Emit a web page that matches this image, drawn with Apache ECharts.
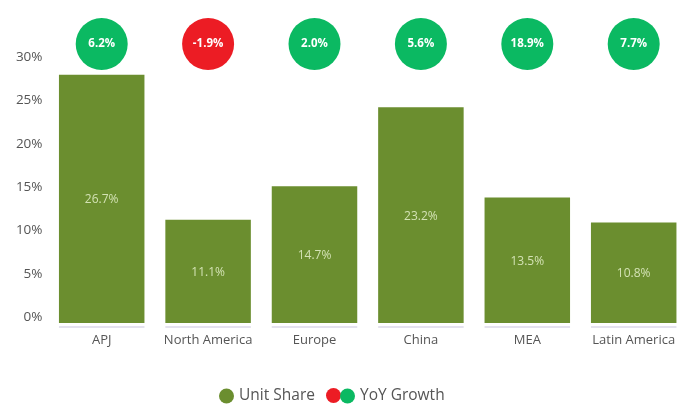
<!DOCTYPE html>
<html><head><meta charset="utf-8">
<style>html,body{margin:0;padding:0;background:#fff}#c{width:681px;height:408px}</style>
<script src="https://cdn.jsdelivr.net/npm/echarts@6/dist/echarts.min.js"></script>
</head><body><div id="c"></div>
<script>
const categories = ['APJ','North America','Europe','China','MEA','Latin America'];
const unitShare = [26.7,11.1,14.7,23.2,13.5,10.8];
const yoyGrowth = [6.2,-1.9,2.0,5.6,18.9,7.7];
const yTicks = [0,5,10,15,20,25,30];
const baseline = categories.map(() => 1);
const FONT = '"Open Sans", sans-serif';
const BAR_W = 85.5;
const L = 48.5, W = 638.4;
const greenPts = [], redPts = [];
yoyGrowth.forEach((v,i) => (v < 0 ? redPts : greenPts).push([i, 0, v]));
const bubbleLabel = {show:true, position:'inside', color:'#fff', fontFamily:FONT, fontSize:11.5, fontWeight:'bold',
  formatter:p => p.value[2].toFixed(1)+'%'};
const chart = echarts.init(document.getElementById('c'), null, {renderer:'canvas'});
const gridBase = {left:L, width:W, outerBoundsMode:'none'};
chart.setOption({
  animation:false,
  backgroundColor:'#fff',
  grid:[
    {...gridBase, top:44, height:279},
    {...gridBase, top:326, height:2},
    {...gridBase, top:18, height:52},
    {...gridBase, top:57, height:260}
  ],
  xAxis:[
    {gridIndex:0, type:'category', data:categories, axisLine:{show:false}, axisTick:{show:false}, axisLabel:{show:false}},
    {gridIndex:1, type:'category', data:categories, axisLine:{show:false}, axisTick:{show:false},
      axisLabel:{show:true, interval:0, margin:6, color:'#555', fontFamily:FONT, fontSize:13}},
    {gridIndex:2, type:'category', data:categories, show:false},
    {gridIndex:3, type:'category', data:categories, show:false}
  ],
  yAxis:[
    {gridIndex:0, type:'value', min:0, max:30, show:false},
    {gridIndex:1, type:'value', min:0, max:1, show:false},
    {gridIndex:2, type:'value', min:-1, max:1, show:false},
    {gridIndex:3, type:'value', min:yTicks[0], max:yTicks[yTicks.length-1], interval:5, splitLine:{show:false},
      axisLine:{show:false}, axisTick:{show:false},
      axisLabel:{margin:6, color:'#555', fontFamily:FONT, fontSize:13.5, formatter:'{value}%'}}
  ],
  legend:[
    {data:['Unit Share'], left:219, top:388, itemWidth:15, itemHeight:15, icon:'circle', padding:0, selectedMode:false,
      textStyle:{color:'#555', fontFamily:FONT, fontSize:15.5}},
    {data:['YoY Decline'], left:326, top:388, itemWidth:15, itemHeight:15, icon:'circle', padding:0, selectedMode:false,
      formatter:()=>''},
    {data:['YoY Growth'], left:340, top:388, itemWidth:15, itemHeight:15, icon:'circle', padding:0, selectedMode:false,
      textStyle:{color:'#555', fontFamily:FONT, fontSize:15.5}}
  ],
  series:[
    {name:'Unit Share', type:'bar', xAxisIndex:0, yAxisIndex:0, data:unitShare, barWidth:BAR_W,
      itemStyle:{color:'#6b8e2f'},
      label:{show:true, position:'inside', offset:[0,1], color:'#d3e2b4', fontFamily:FONT, fontSize:12, formatter:p=>p.value.toFixed(1)+'%'}},
    {name:'Base', type:'bar', xAxisIndex:1, yAxisIndex:1, data:baseline, barWidth:BAR_W, itemStyle:{color:'#e4e2ee'}, silent:true},
    {name:'YoY Decline', type:'scatter', xAxisIndex:2, yAxisIndex:2, data:redPts, symbolSize:52,
      itemStyle:{color:'#ec1c24', opacity:1}, label:bubbleLabel},
    {name:'YoY Growth', type:'scatter', xAxisIndex:2, yAxisIndex:2, data:greenPts, symbolSize:52,
      itemStyle:{color:'#0bb962', opacity:1}, label:bubbleLabel}
  ]
});
</script></body></html>
